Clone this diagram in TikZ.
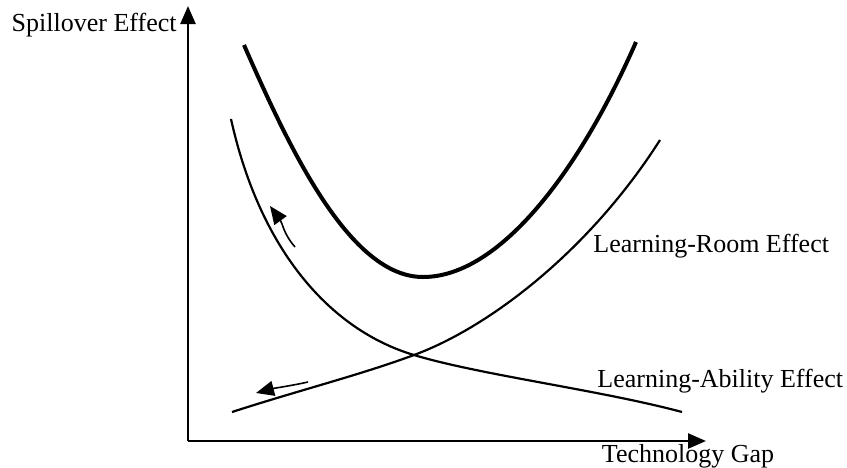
\documentclass[tikz,border=0pt]{standalone}
\usepackage{fontspec}
\setmainfont{Liberation Serif}
\usetikzlibrary{arrows.meta, positioning}

\begin{document}
\begin{tikzpicture}[
    x=0.5pt, y=-0.5pt, >={Triangle[length=9pt,width=7.5pt]},
    axis/.style={draw, ->, line width=1.2pt},
    curve/.style={line width=1.1pt},
    bigcurve/.style={line width=2pt},
    movearrow/.style={draw, ->, line width=0.8pt},
    lab/.style={font=\fontsize{13}{15}\selectfont, inner sep=0pt}
  ]
    \useasboundingbox (0,0) rectangle (847,467);
    % axes
    \coordinate (origin) at (188,441);
    \coordinate (ytop) at (188,6);
    \coordinate (xend) at (706,441);
    \draw[axis] (origin) -- (ytop);
    \draw[axis] (origin) -- (xend);
    \node (ylab) [lab, anchor=base east] at (177,31) {Spillover Effect};
    \node (xlab) [lab, anchor=base] at (688,462) {Technology Gap};

    % total spillover
    \coordinate (bottom) at (423,277);
    \draw[bigcurve] (244,45) .. controls (290,150) and (350,277) .. (bottom)
                             .. controls (500,277) and (580,170) .. (636,42);
    % learning-ability and learning-room cross here
    \coordinate (cross) at (414,355);
    \draw[curve] (231,119) .. controls (260,250) and (330,330) .. (cross)
                           .. controls (480,375) and (600,390) .. (682,412);
    \draw[curve] (232,412) .. controls (300,390) and (360,375) .. (cross)
                           .. controls (490,327) and (590,250) .. (660,140);

    \node (roomlab) [lab, anchor=base west] at (593,252) {Learning-Room Effect};
    \node (abilitylab) [lab, anchor=base west] at (597,387) {Learning-Ability Effect};

    % shift arrows
    \coordinate (s1) at (295,247);
    \coordinate (t1) at (270,206);
    \coordinate (s2) at (308,382);
    \coordinate (t2) at (256,393);
    \draw[movearrow] (s1) .. controls (283,233) and (283,224) .. (t1);
    \draw[movearrow] (s2) .. controls (290,386) and (275,388) .. (t2);
  \end{tikzpicture}
\end{document}
